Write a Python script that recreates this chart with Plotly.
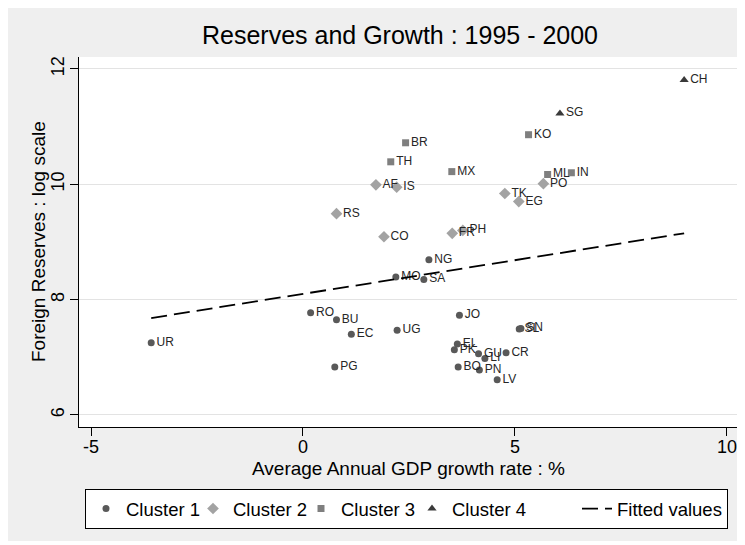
import plotly.graph_objects as go

# ---------------- data ----------------
c1_codes = ["UR", "RO", "BU", "EC", "UG", "PG", "MO", "SA", "NG", "JO",
            "SL", "SN", "EL", "PK", "GU", "LI", "CR", "BO", "PN", "LV"]
c1_x = [-3.58, 0.18, 0.79, 1.14, 2.22, 0.75, 2.19, 2.85, 2.97, 3.69,
        5.10, 5.14, 3.64, 3.57, 4.14, 4.29, 4.79, 3.66, 4.16, 4.58]
c1_y = [7.25, 7.77, 7.65, 7.40, 7.47, 6.83, 8.39, 8.35, 8.69, 7.73,
        7.49, 7.50, 7.23, 7.13, 7.06, 6.98, 7.08, 6.83, 6.78, 6.61]

c2_codes = ["AF", "IS", "RS", "CO", "FR", "PH", "TK", "EG", "PO"]
c2_x = [1.72, 2.21, 0.79, 1.91, 3.52, 3.77, 4.76, 5.09, 5.67]
c2_y = [9.99, 9.95, 9.49, 9.09, 9.15, 9.20, 9.84, 9.70, 10.01]

c3_codes = ["BR", "TH", "MX", "KO", "ML", "IN"]
c3_x = [2.42, 2.07, 3.51, 5.32, 5.77, 6.33]
c3_y = [10.72, 10.39, 10.22, 10.86, 10.17, 10.20]

c4_codes = ["SG", "CH"]
c4_x = [6.06, 8.99]
c4_y = [11.23, 11.81]

# fitted values (linear fit as drawn in the reference)
fit_x = [-3.58, 8.99]
fit_y = [7.68, 9.15]

x_ticks = [-5, 0, 5, 10]
x_ticklabels = ["-5", "0", "5", "10"]
y_ticks = [6, 8, 10, 12]
y_ticklabels = ["6", "8", "10", "12"]

title_text = "Reserves and Growth : 1995 - 2000"
x_title = "Average Annual GDP growth rate : %"
y_title = "Foreign Reserves : log scale"

# ---------------- figure ----------------
FONT = "Liberation Sans, Arial, Helvetica, sans-serif"
BG = "#efefef"

fig = go.Figure()

clusters = [
    ("Cluster 1", c1_codes, c1_x, c1_y, "circle", 7, "#595959", 62),
    ("Cluster 2", c2_codes, c2_x, c2_y, "diamond", 9, "#a3a3a3", 63),
    ("Cluster 3", c3_codes, c3_x, c3_y, "square", 7, "#7f7f7f", 66),
    ("Cluster 4", c4_codes, c4_x, c4_y, "triangle-up", 8, "#3a3a3a", 120),
]
for name, codes, xs, ys, sym, size, col, lw in clusters:
    fig.add_trace(go.Scatter(
        x=xs, y=ys, mode="markers+text", text=codes,
        textposition="middle right",
        textfont=dict(family=FONT, size=12, color="#262626"),
        marker=dict(symbol=sym, size=size, color=col, line=dict(width=0)),
        name=name, legendwidth=lw, cliponaxis=False,
    ))

fig.add_trace(go.Scatter(
    x=fit_x, y=fit_y, mode="lines", name="Fitted values",
    line=dict(color="black", width=1.8, dash="16px,7px"),
))

# page is offset by the 8px body margin; figure spans page x 8..738, y 8..541
W, H = 730, 533
L, R, T, B = 71, 0, 49, 114
PW, PH = W - L - R, H - T - B

fig.update_layout(
    width=W, height=H,
    margin=dict(l=L, r=R, t=T, b=B, autoexpand=False),
    paper_bgcolor=BG, plot_bgcolor="white",
    font=dict(family=FONT, size=18, color="black"),
    title=dict(text=title_text, x=(392 - L) / PW, xref="paper",
               xanchor="center", y=1 - 27 / H, yref="container", yanchor="middle",
               font=dict(size=25, family=FONT, color="black")),
    showlegend=True,
    legend=dict(orientation="h", x=(77 - L) / PW, xanchor="left",
                y=(H - B - 481) / PH, yanchor="top",
                bgcolor="white", bordercolor="black", borderwidth=1,
                font=dict(size=18.5, family=FONT), entrywidthmode="pixels",
                tracegroupgap=0),
    xaxis=dict(range=[-5.283, 10.26], tickvals=x_ticks, ticktext=x_ticklabels,
               ticks="outside", ticklen=8, tickcolor="black", showline=True,
               linecolor="black", linewidth=1, showgrid=False, zeroline=False,
               ticklabelstandoff=-5, tickfont=dict(size=18)),
    yaxis=dict(range=[5.79, 12.208], tickvals=y_ticks, ticktext=y_ticklabels,
               ticks="outside", ticklen=8, tickcolor="black", showline=True,
               linecolor="black", linewidth=1, showgrid=True,
               gridcolor="#e3e3e3", gridwidth=1, zeroline=False, tickangle=-90,
               ticklabelstandoff=-1, tickfont=dict(size=18)),
    annotations=[
        dict(text=x_title, xref="paper", yref="paper",
             x=(400 - L) / PW, y=(H - B - 460) / PH,
             xanchor="center", yanchor="middle", showarrow=False,
             font=dict(size=19, family=FONT, color="black")),
        dict(text=y_title, xref="paper", yref="paper", textangle=-90,
             x=(30 - L) / PW, y=(H - B - 234) / PH,
             xanchor="center", yanchor="middle", showarrow=False,
             font=dict(size=19, family=FONT, color="black")),
    ],
)

fig.write_html("out.html")
